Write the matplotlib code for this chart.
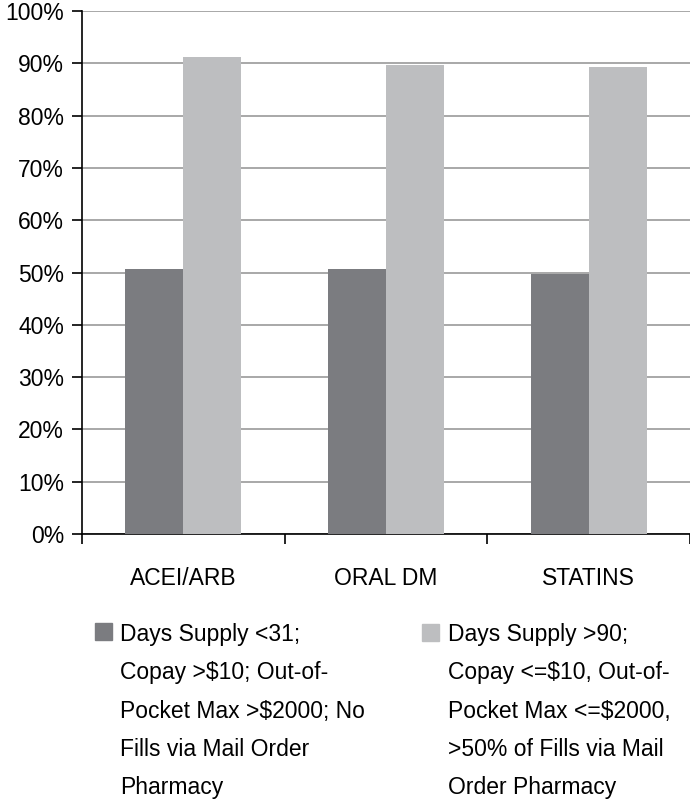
import numpy as np
import matplotlib
matplotlib.use('Agg')
import matplotlib.pyplot as plt
from matplotlib.patches import Rectangle

plt.rcParams['font.family'] = ['Liberation Sans', 'DejaVu Sans']

# data
categories = ['ACEI/ARB', 'ORAL DM', 'STATINS']
low_values = [50.7, 50.7, 49.7]     # Days Supply <31 ...
high_values = [91.3, 89.7, 89.4]    # Days Supply >90 ...
yticks = np.arange(0, 101, 10)
low_label = ('Days Supply <31;\nCopay >$10; Out-of-\nPocket Max >$2000; No\n'
             'Fills via Mail Order\nPharmacy')
high_label = ('Days Supply >90;\nCopay <=$10, Out-of-\nPocket Max <=$2000,\n'
              '>50% of Fills via Mail\nOrder Pharmacy')

dark = '#7b7c80'
light = '#bdbec0'

fig = plt.figure(figsize=(6.9, 8), dpi=100)
ax = fig.add_axes([0.119, 0.3325, 0.881, 0.6535])

x = np.arange(len(categories))
w = 0.286
ax.bar(x - w / 2, low_values, w, color=dark, zorder=3)
ax.bar(x + w / 2, high_values, w, color=light, zorder=3)

ax.set_xlim(-0.5, 2.5)
ax.set_ylim(0, 100)
ax.set_yticks(yticks)
ax.set_yticklabels(['%d%%' % v for v in yticks])
ax.yaxis.grid(True, color='#9a9a9a', linewidth=1.2, zorder=0)

ax.set_xticks(x)
ax.set_xticklabels(categories)
ax.set_xticks(np.arange(-0.5, 3.0, 1.0), minor=True)
ax.tick_params(axis='x', which='major', length=0, pad=24, labelsize=16.5)
ax.tick_params(axis='x', which='minor', length=7, width=1.2, direction='out')
ax.tick_params(axis='y', length=7, width=1.2, pad=6, labelsize=16.5)

for s in ['top', 'right']:
    ax.spines[s].set_visible(False)
for s in ['left', 'bottom']:
    ax.spines[s].set_linewidth(1.2)

# legend drawn by hand: squares plus wrapped text
fig.patches.append(Rectangle((95 / 690, 1 - 640 / 800), 17 / 690, 17 / 800,
                             transform=fig.transFigure, color=dark, figure=fig))
fig.patches.append(Rectangle((422 / 690, 1 - 641 / 800), 17 / 690, 17 / 800,
                             transform=fig.transFigure, color=light, figure=fig))
fig.text(120 / 690, 1 - 623 / 800, low_label, fontsize=16.5, va='top',
         ha='left', linespacing=1.85)
fig.text(448 / 690, 1 - 623 / 800, high_label, fontsize=16.5, va='top',
         ha='left', linespacing=1.85)

fig.savefig('out.png', dpi=100)
